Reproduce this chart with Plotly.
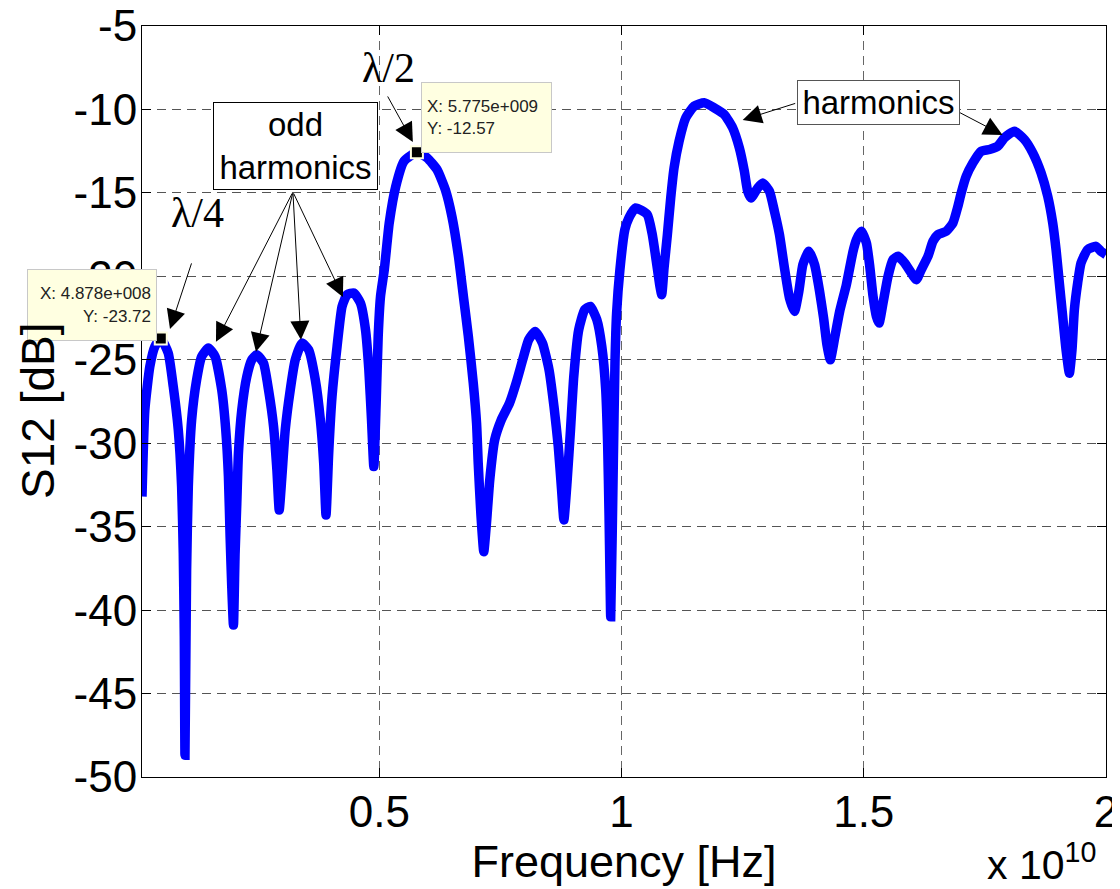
import numpy as np
import plotly.graph_objects as go

# ---------------- data (frequency in units of 1e10 Hz, S12 in dB) ----------------
freq_band1 = [0.0100, 0.0159, 0.0262, 0.0366, 0.04878, 0.0642, 0.0745, 0.0849, 0.0918, 0.0952,
              0.0973, 0.0987, 0.1021, 0.1056, 0.1125, 0.1228, 0.1332, 0.1470, 0.1608, 0.1746,
              0.1829, 0.1884, 0.1919, 0.1953, 0.1988, 0.2022, 0.2057, 0.2091, 0.2160, 0.2264,
              0.2367, 0.2471, 0.2609, 0.2712, 0.2816, 0.2885, 0.2933, 0.2988, 0.3057, 0.3161,
              0.3264, 0.3402, 0.3540, 0.3678, 0.3782, 0.3851, 0.3899, 0.3954, 0.4023, 0.4127,
              0.4230, 0.4334, 0.4472, 0.4610, 0.4714, 0.4783, 0.4838, 0.4886, 0.4934, 0.4976]
s12_band1 = [-33.2, -28.0, -25.4, -24.2, -23.72, -24.6, -26.6, -29.2, -32.6, -36.6,
             -41.6, -48.7, -37.6, -32.6, -28.6, -26.2, -24.8, -24.3, -24.8, -26.8,
             -29.2, -32.0, -35.6, -38.6, -40.9, -36.6, -33.6, -30.6, -28.0, -26.0,
             -25.0, -24.7, -25.2, -26.8, -29.0, -31.6, -34.0, -32.0, -29.2, -26.8,
             -25.0, -24.0, -24.4, -26.2, -28.6, -31.2, -34.3, -30.6, -27.2, -24.2,
             -21.8, -21.1, -21.0, -21.6, -23.2, -25.6, -28.6, -31.4, -27.6, -23.6]

freq_band2 = [0.5024, 0.5102, 0.5204, 0.5340, 0.5510, 0.5775, 0.5986, 0.6190, 0.6361, 0.6497,
              0.6633, 0.6735, 0.6837, 0.6939, 0.7007, 0.7041, 0.7095, 0.7156, 0.7211, 0.7279,
              0.7381, 0.7517, 0.7687, 0.7823, 0.7959, 0.8082, 0.8218, 0.8367, 0.8503, 0.8605,
              0.8694, 0.8762, 0.8810, 0.8878, 0.8946, 0.9014, 0.9116, 0.9238, 0.9354, 0.9490,
              0.9592, 0.9673, 0.9714, 0.9741, 0.9762, 0.9776, 0.9830, 0.9864, 0.9898, 0.9966]
s12_band2 = [-21.2, -19.6, -16.8, -14.6, -13.1, -12.57, -12.9, -13.6, -14.8, -16.4,
             -18.8, -21.2, -23.6, -26.4, -28.8, -31.2, -34.2, -36.5, -34.8, -32.2,
             -29.8, -28.6, -27.6, -26.4, -25.0, -23.8, -23.3, -24.0, -25.6, -27.8,
             -30.2, -32.8, -34.6, -32.2, -29.2, -26.0, -23.2, -22.0, -21.8, -22.6,
             -24.2, -26.8, -30.2, -34.2, -38.1, -40.4, -31.2, -25.2, -22.2, -19.6]

freq_band3 = [1.0068, 1.0152, 1.0290, 1.0532, 1.0635, 1.0718, 1.0787, 1.0829, 1.0877, 1.0946,
              1.1015, 1.1084, 1.1188, 1.1326, 1.1499, 1.1706, 1.1913, 1.2120, 1.2293, 1.2431,
              1.2535, 1.2604, 1.2673, 1.2811, 1.2914, 1.3052, 1.3156, 1.3260, 1.3363, 1.3467,
              1.3570, 1.3660, 1.3743, 1.3867, 1.3985, 1.4088, 1.4171, 1.4240, 1.4309, 1.4399,
              1.4503, 1.4641, 1.4779]
s12_band3 = [-17.2, -16.5, -15.9, -16.3, -17.5, -19.1, -20.5, -21.1, -19.5, -17.5,
             -15.3, -13.5, -11.9, -10.5, -9.8, -9.6, -9.9, -10.3, -11.1, -12.3,
             -13.7, -14.9, -15.3, -14.7, -14.4, -14.9, -16.1, -17.5, -19.5, -21.3,
             -22.1, -20.9, -19.3, -18.5, -19.3, -20.9, -22.5, -24.1, -25.0, -23.7,
             -22.1, -20.5, -18.5]

freq_band4 = [1.4849, 1.4952, 1.5055, 1.5124, 1.5192, 1.5261, 1.5316, 1.5398, 1.5501, 1.5604,
              1.5707, 1.5845, 1.5982, 1.6085, 1.6188, 1.6326, 1.6429, 1.6532, 1.6703, 1.6841,
              1.6944, 1.7012, 1.7115, 1.7253, 1.7424, 1.7596, 1.7768, 1.7905, 1.8111, 1.8317,
              1.8489, 1.8661, 1.8798, 1.8901, 1.8970, 1.9038, 1.9107, 1.9176, 1.9245, 1.9299,
              1.9348, 1.9416, 1.9485, 1.9622, 1.9794, 1.9897, 2.0000]
s12_band4 = [-17.8, -17.3, -18.0, -19.4, -21.2, -22.4, -22.8, -21.6, -20.0, -19.0,
             -18.8, -19.2, -19.8, -20.2, -19.6, -18.8, -17.9, -17.5, -17.3, -16.8,
             -15.8, -15.0, -14.0, -13.2, -12.5, -12.4, -12.2, -11.7, -11.3, -11.8,
             -12.6, -13.8, -15.2, -16.8, -18.4, -20.4, -22.4, -24.4, -25.8, -24.4,
             -22.0, -20.4, -19.2, -18.4, -18.2, -18.5, -18.7]

# data tips
tip_x = [4.878e8, 5.775e9]
tip_y = [-23.72, -12.57]

# axis ticks
xtick_vals = [0.5e10, 1.0e10, 1.5e10, 2.0e10]
xtick_text = ["0.5", "1", "1.5", "2"]
ytick_vals = [-50, -45, -40, -35, -30, -25, -20, -15, -10, -5]
ytick_text = [str(v) for v in ytick_vals]

freq_hz = np.array(freq_band1 + freq_band2 + freq_band3 + freq_band4) * 1e10
s12_db = np.array(s12_band1 + s12_band2 + s12_band3 + s12_band4)

# ---------------- layout geometry ----------------
# The page adds an 8px body margin, so the figure is drawn 8px smaller and
# every reference-page pixel position is shifted by OFF.
OFF = 8
W, H = 1120 - OFF, 889 - OFF
L, R, T, B = 142 - OFF, 1106.5 - OFF, 26 - OFF, 777.3 - OFF


def pp(px, py):
    """reference page pixel -> paper coordinates"""
    fx, fy = px - OFF, py - OFF
    return (fx - L) / (R - L), (B - fy) / (B - T)


SANS = "Liberation Sans, Arial, Helvetica, sans-serif"
SERIF = "Liberation Serif, Times New Roman, serif"


def matlab_exp(v):
    m, e = f"{v:.3e}".split("e")
    return f"{m}e{e[0]}{int(e[1:]):03d}"


fig = go.Figure()
fig.add_trace(go.Scatter(x=freq_hz, y=s12_db, mode="lines",
                         line=dict(color="#0000FF", width=9.5, shape="spline", smoothing=0.5),
                         hoverinfo="skip", showlegend=False))
fig.add_trace(go.Scatter(x=tip_x, y=tip_y, mode="markers",
                         marker=dict(symbol="square", size=12, color="black",
                                     line=dict(color="#FFFFE1", width=2)),
                         hoverinfo="skip", showlegend=False))

annotations = []

# data tip boxes
tip_boxes = [((92, 305), 130, 62, "right"), ((487, 118), 131, 61, "left")]
for i, ((cx, cy), w, h, al) in enumerate(tip_boxes):
    ax_, ay_ = pp(cx, cy)
    annotations.append(dict(
        xref="paper", yref="paper", x=ax_, y=ay_, xanchor="center", yanchor="middle",
        text=f"X: {matlab_exp(tip_x[i])}<br>Y: {tip_y[i]:.2f}",
        showarrow=False, align=al, width=w - 12, height=h - 2,
        bgcolor="#FFFFE1", bordercolor="#C8C8C8", borderwidth=1, borderpad=5,
        font=dict(family=SANS, size=17, color="#222222")))

# y-axis title (placed explicitly to match the reference position, drawn on top)
tx_, ty_ = pp(38, 411)
annotations.append(dict(xref="paper", yref="paper", x=tx_, y=ty_, xanchor="center",
                        yanchor="middle", textangle=-90, showarrow=False, text="S12 [dB]",
                        font=dict(family=SANS, size=46, color="black")))

# lambda labels
for txt, (cx, cy) in [("\u03bb/4", (198, 213)), ("\u03bb/2", (389, 68))]:
    ax_, ay_ = pp(cx, cy)
    annotations.append(dict(xref="paper", yref="paper", x=ax_, y=ay_,
                            xanchor="center", yanchor="middle", text=txt, showarrow=False,
                            font=dict(family=SERIF, size=42, color="black")))

# text boxes
for txt, (cx, cy), w, h, bc in [("odd<br>harmonics", (296, 146), 165, 88, "black"),
                                ("harmonics", (879, 103), 163, 45, "#555555")]:
    ax_, ay_ = pp(cx, cy)
    annotations.append(dict(xref="paper", yref="paper", x=ax_, y=ay_,
                            xanchor="center", yanchor="middle", text=txt, showarrow=False,
                            width=w - 4, height=h - 4, borderpad=1,
                            bgcolor="white", bordercolor=bc, borderwidth=1,
                            font=dict(family=SANS, size=33, color="black")))

# arrows: (head px, tail px) in reference page pixels
arrows = [((170, 329), (192, 262)),
          ((413, 142), (387, 95)),
          ((216, 342), (293, 192)),
          ((256, 352), (293, 192)),
          ((301, 340), (293, 192)),
          ((343, 297), (293, 192)),
          ((743, 120), (797, 103)),
          ((1003, 135), (959, 112))]
for (hx, hy), (tx, ty) in arrows:
    ax_, ay_ = pp(hx, hy)
    annotations.append(dict(xref="paper", yref="paper", x=ax_, y=ay_, text="",
                            showarrow=True, arrowhead=2, arrowsize=3.8, arrowwidth=1,
                            arrowcolor="black", ax=tx - hx, ay=ty - hy))

# x 10^10 multiplier
mx, my = pp(1042, 862)
annotations.append(dict(xref="paper", yref="paper", x=mx, y=my, xanchor="center",
                        yanchor="middle", showarrow=False,
                        text="x 10<sup>10</sup>", font=dict(family=SANS, size=41, color="black")))

fig.update_layout(
    width=W, height=H,
    margin=dict(l=L, r=W - R, t=T, b=H - B, autoexpand=False),
    paper_bgcolor="white", plot_bgcolor="white",
    annotations=annotations,
    font=dict(family=SANS, color="black"),
)

fig.update_xaxes(
    range=[freq_hz[0], 2.0001e10], tickmode="array", tickvals=xtick_vals, ticktext=xtick_text,
    showline=True, linecolor="black", linewidth=1, mirror="ticks",
    ticks="inside", ticklen=9, tickcolor="black", ticklabelstandoff=-4,
    ticklabeloverflow="allow",
    showgrid=True, gridcolor="#666666", griddash="9px,6px", gridwidth=1,
    zeroline=False, tickfont=dict(family=SANS, size=44, color="black"),
    title=dict(text="Frequency [Hz]", font=dict(family=SANS, size=45, color="black"), standoff=6),
)
fig.update_yaxes(
    range=[-50.001, -4.999], tickmode="array", tickvals=ytick_vals, ticktext=ytick_text,
    showline=True, linecolor="black", linewidth=1, mirror="ticks",
    ticks="inside", ticklen=9, tickcolor="black", ticklabelstandoff=-5,
    ticklabeloverflow="allow",
    showgrid=True, gridcolor="#555555", griddash="9px,6px", gridwidth=1,
    zeroline=False, tickfont=dict(family=SANS, size=44, color="black"),
)

fig.write_html("out.html")
